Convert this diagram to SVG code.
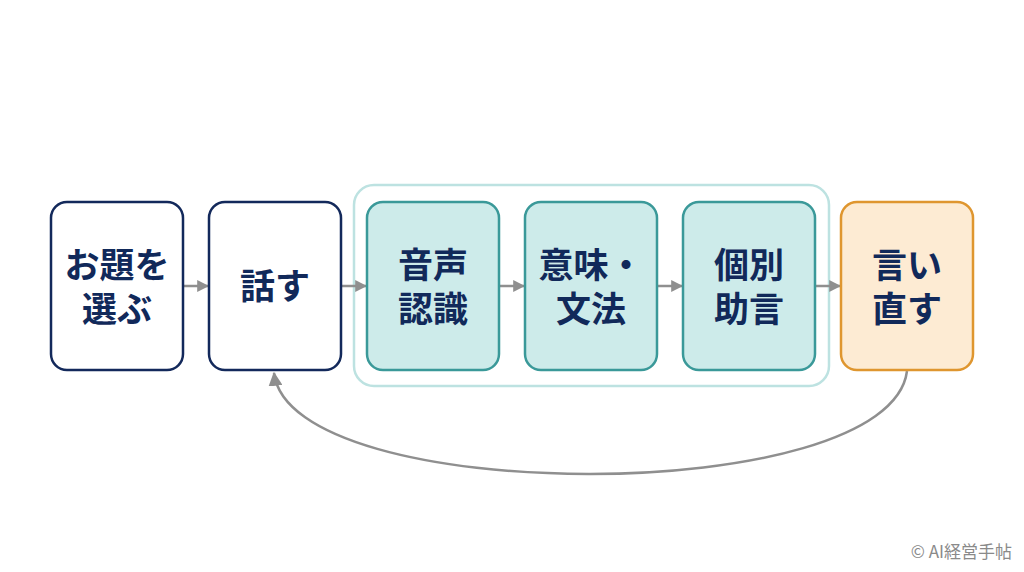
<svg xmlns="http://www.w3.org/2000/svg" width="1024" height="572" viewBox="0 0 1024 572">
<defs>
<marker id="ah" viewBox="0 0 10 10" refX="9" refY="5" markerWidth="12" markerHeight="12" markerUnits="userSpaceOnUse" orient="auto">
<path d="M0,0 L10,5 L0,10 z" fill="#8f8f8f"/>
</marker>
<marker id="ah2" viewBox="0 0 12 12" refX="11" refY="6" markerWidth="14" markerHeight="14" markerUnits="userSpaceOnUse" orient="auto">
<path d="M0,0 L12,6 L0,12 z" fill="#8f8f8f"/>
</marker>
</defs>
<style>
.t{font-family:"Noto Sans CJK JP","Noto Sans",sans-serif;font-weight:700;font-size:35px;fill:#11295a;text-anchor:middle}
.w{fill:#ffffff;stroke:#13295b;stroke-width:2.5}
.g{fill:#cdebea;stroke:#3a9999;stroke-width:2.5}
.o{fill:#fdebd3;stroke:#df962f;stroke-width:2.5}
.c{fill:none;stroke:#8f8f8f;stroke-width:2.5}
</style>
<rect width="1024" height="572" fill="#ffffff"/>
<g id="group">
<rect x="354" y="185" width="475" height="201" rx="20" fill="#ffffff" stroke="#bde2e1" stroke-width="2.5"/>
</g>
<g id="connectors">
<line class="c" x1="184" y1="286" x2="208" y2="286" marker-end="url(#ah)"/>
<line class="c" x1="342" y1="286" x2="366" y2="286" marker-end="url(#ah)"/>
<line class="c" x1="500" y1="286" x2="524" y2="286" marker-end="url(#ah)"/>
<line class="c" x1="658" y1="286" x2="682" y2="286" marker-end="url(#ah)"/>
<line class="c" x1="816" y1="286" x2="840" y2="286" marker-end="url(#ah)"/>
<path class="c" d="M907,371 C890,508 290,508 274,373" marker-end="url(#ah2)"/>
</g>
<g id="n1">
<rect class="w" x="51" y="202" width="132" height="168" rx="16"/>
<text class="t" x="117" y="278">お題を</text>
<text class="t" x="117" y="322">選ぶ</text>
</g>
<g id="n2">
<rect class="w" x="209" y="202" width="132" height="168" rx="16"/>
<text class="t" x="275" y="299">話す</text>
</g>
<g id="n3">
<rect class="g" x="367" y="202" width="132" height="168" rx="16"/>
<text class="t" x="433" y="278">音声</text>
<text class="t" x="433" y="322">認識</text>
</g>
<g id="n4">
<rect class="g" x="525" y="202" width="132" height="168" rx="16"/>
<text class="t" x="591" y="278">意味・</text>
<text class="t" x="591" y="322">文法</text>
</g>
<g id="n5">
<rect class="g" x="683" y="202" width="132" height="168" rx="16"/>
<text class="t" x="749" y="278">個別</text>
<text class="t" x="749" y="322">助言</text>
</g>
<g id="n6">
<rect class="o" x="841" y="202" width="132" height="168" rx="16"/>
<text class="t" x="907" y="278">言い</text>
<text class="t" x="907" y="322">直す</text>
</g>
<text x="1012" y="558" font-family="'Noto Sans CJK JP','Noto Sans',sans-serif" font-size="17" fill="#8a8a8a" text-anchor="end">© AI経営手帖</text>
</svg>
